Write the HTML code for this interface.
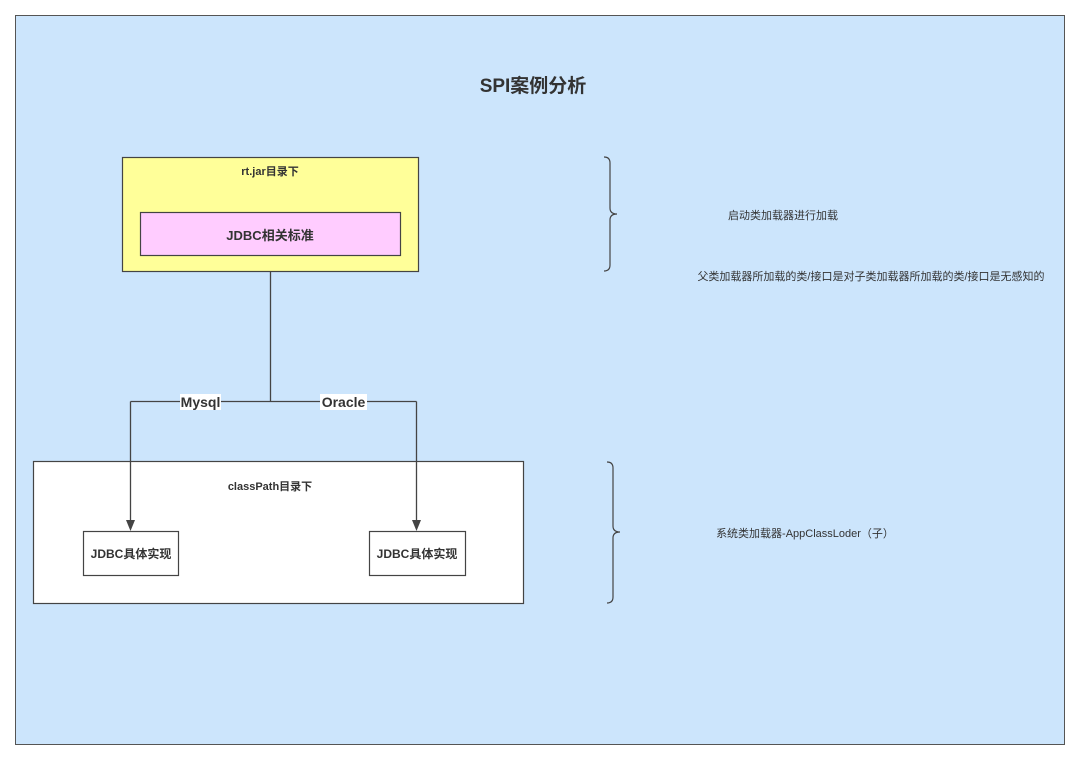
<!DOCTYPE html>
<html><head><meta charset="utf-8"><style>
html,body{margin:0;padding:0;background:#fff;}
svg{display:block;}
text{font-family:"Liberation Sans","Noto Sans CJK SC",sans-serif;fill:#333;}
</style></head><body>
<svg width="1080" height="759" viewBox="0 0 1080 759">
<rect x="15.5" y="15.5" width="1049" height="729" fill="#cce5fc" stroke="#555" stroke-width="1"/>
<text x="533" y="92" font-size="19" font-weight="bold" text-anchor="middle">SPI案例分析</text>
<rect x="122.5" y="157.5" width="296" height="114" fill="#ffff99" stroke="#444" stroke-width="1.2"/>
<text x="270" y="175" font-size="11" font-weight="bold" text-anchor="middle">rt.jar目录下</text>
<rect x="140.5" y="212.5" width="260" height="43" fill="#ffccff" stroke="#444" stroke-width="1.2"/>
<text x="270" y="240" font-size="13" font-weight="bold" text-anchor="middle">JDBC相关标准</text>
<rect x="33.5" y="461.5" width="490" height="142" fill="#fff" stroke="#444" stroke-width="1.2"/>
<text x="270" y="490" font-size="11" font-weight="bold" text-anchor="middle">classPath目录下</text>
<path d="M270.5 272 V401.5 M130.5 401.5 H416.5 M130.5 401.5 V522 M416.5 401.5 V522" fill="none" stroke="#444" stroke-width="1.3"/>
<path d="M126 520 L135 520 L130.5 531 Z M412 520 L421 520 L416.5 531 Z" fill="#444"/>
<rect x="180" y="394" width="41" height="16" fill="#fff"/>
<rect x="320" y="394" width="47" height="16" fill="#fff"/>
<text x="200.5" y="407" font-size="14" font-weight="bold" text-anchor="middle">Mysql</text>
<text x="343.5" y="407" font-size="14" font-weight="bold" text-anchor="middle">Oracle</text>
<rect x="83.5" y="531.5" width="95" height="44" fill="#fff" stroke="#444" stroke-width="1.2"/>
<text x="131" y="558" font-size="12" font-weight="bold" text-anchor="middle">JDBC具体实现</text>
<rect x="369.5" y="531.5" width="96" height="44" fill="#fff" stroke="#444" stroke-width="1.2"/>
<text x="417" y="558" font-size="12" font-weight="bold" text-anchor="middle">JDBC具体实现</text>
<path d="M604 157 Q610 157 610 163 V208 Q610 214 617 214 Q610 214 610 220 V265 Q610 271 604 271" fill="none" stroke="#444" stroke-width="1.2"/>
<path d="M607 462 Q613 462 613 468 V526 Q613 532 620 532 Q613 532 613 538 V597 Q613 603 607 603" fill="none" stroke="#444" stroke-width="1.2"/>
<text x="783" y="219" font-size="11" text-anchor="middle">启动类加载器进行加载</text>
<text x="871" y="280" font-size="11" text-anchor="middle">父类加载器所加载的类/接口是对子类加载器所加载的类/接口是无感知的</text>
<text x="805" y="537" font-size="11" text-anchor="middle">系统类加载器-AppClassLoder（子）</text>
</svg>
</body></html>
